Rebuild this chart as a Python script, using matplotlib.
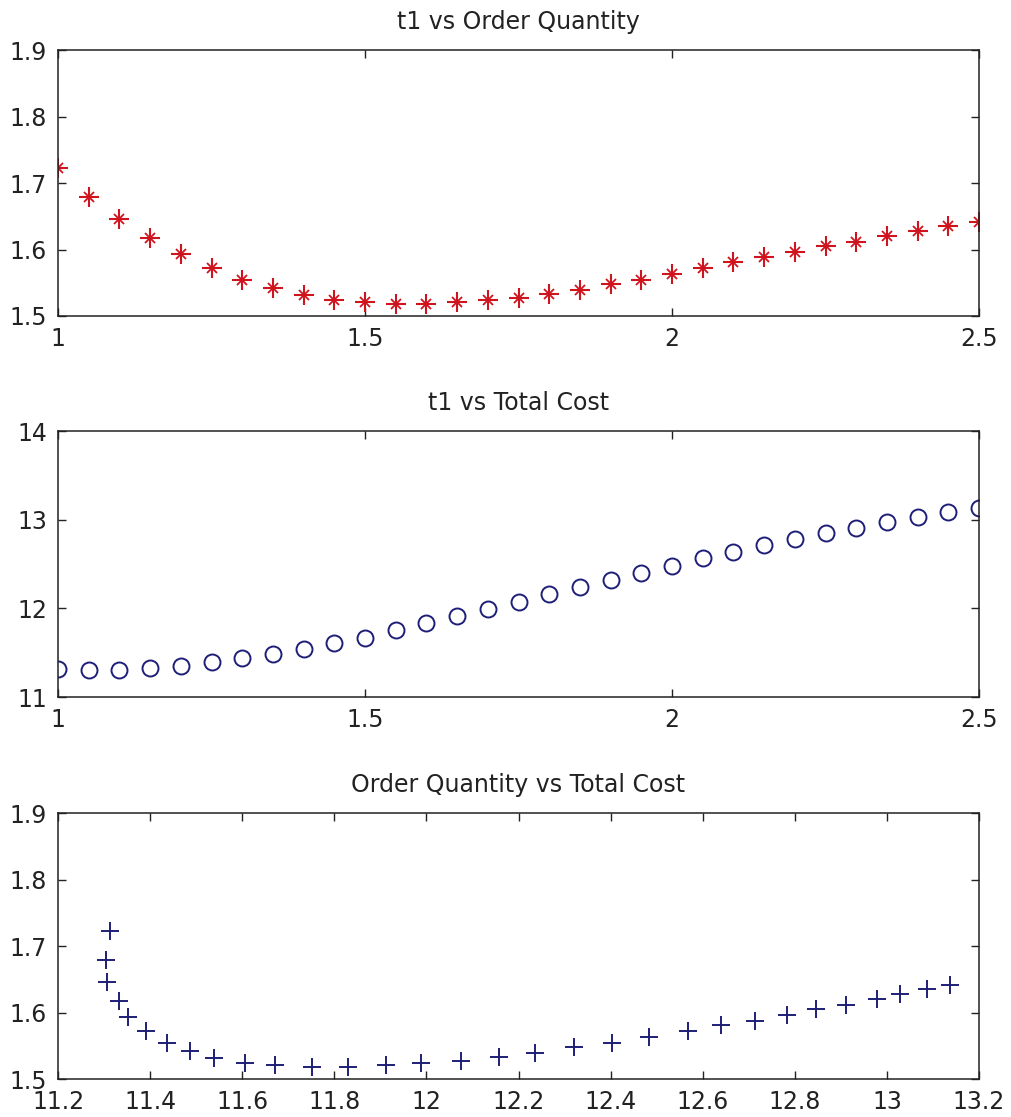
import matplotlib
matplotlib.use("Agg")
import matplotlib.pyplot as plt

plt.rcParams['font.family'] = ['DejaVu Sans']

t1 = [1.00, 1.05, 1.10, 1.15, 1.20, 1.25, 1.30, 1.35, 1.40, 1.45, 1.50,
      1.55, 1.60, 1.65, 1.70, 1.75, 1.80, 1.85, 1.90, 1.95, 2.00,
      2.05, 2.10, 2.15, 2.20, 2.25, 2.30, 2.35, 2.40, 2.45, 2.50]
order_qty = [1.722, 1.679, 1.646, 1.617, 1.593, 1.572, 1.554, 1.542, 1.531, 1.524, 1.521,
             1.518, 1.518, 1.521, 1.524, 1.527, 1.533, 1.539, 1.548, 1.554, 1.563,
             1.572, 1.581, 1.588, 1.597, 1.605, 1.612, 1.621, 1.628, 1.635, 1.641]
total_cost = [11.313, 11.305, 11.306, 11.332, 11.352, 11.392, 11.437, 11.487, 11.538, 11.607, 11.671,
              11.752, 11.830, 11.912, 11.988, 12.074, 12.157, 12.236, 12.320, 12.404, 12.483,
              12.567, 12.640, 12.714, 12.782, 12.846, 12.912, 12.978, 13.029, 13.088, 13.136]

fig = plt.figure(figsize=(10.11, 11.17), dpi=100)
ax1 = fig.add_axes([0.0574, 0.7171, 0.911, 0.2381])
ax2 = fig.add_axes([0.0574, 0.3760, 0.911, 0.2381])
ax3 = fig.add_axes([0.0574, 0.0340, 0.911, 0.2381])

# t1 vs order quantity: red asterisks (plus + cross overlaid)
ax1.plot(t1, order_qty, linestyle='none', marker='+', ms=14, mew=1.5, color='#d0141e')
ax1.plot(t1, order_qty, linestyle='none', marker='x', ms=7.5, mew=1.3, color='#d0141e')
ax1.set_xlim(1, 2.5)
ax1.set_ylim(1.5, 1.9)
ax1.set_xticks([1, 1.5, 2, 2.5])
ax1.set_xticklabels(['1', '1.5', '2', '2.5'])
ax1.set_yticks([1.5, 1.6, 1.7, 1.8, 1.9])
ax1.set_title('t1 vs Order Quantity', fontsize=17, pad=15, color='#222222')

ax2.plot(t1, total_cost, linestyle='none', marker='o', ms=11.5, mew=1.4,
         markerfacecolor='none', color='#1e1e78')
ax2.set_xlim(1, 2.5)
ax2.set_ylim(11, 14)
ax2.set_xticks([1, 1.5, 2, 2.5])
ax2.set_xticklabels(['1', '1.5', '2', '2.5'])
ax2.set_yticks([11, 12, 13, 14])
ax2.set_title('t1 vs Total Cost', fontsize=17, pad=15, color='#222222')

ax3.plot(total_cost, order_qty, linestyle='none', marker='+', ms=13, mew=1.4, color='#1e1e78')
ax3.set_xlim(11.2, 13.2)
ax3.set_ylim(1.5, 1.9)
ax3.set_xticks([11.2, 11.4, 11.6, 11.8, 12, 12.2, 12.4, 12.6, 12.8, 13, 13.2])
ax3.set_xticklabels(['11.2', '11.4', '11.6', '11.8', '12', '12.2', '12.4', '12.6', '12.8', '13', '13.2'])
ax3.set_yticks([1.5, 1.6, 1.7, 1.8, 1.9])
ax3.set_title('Order Quantity vs Total Cost', fontsize=17, pad=15, color='#222222')

for ax in (ax1, ax2, ax3):
    ax.tick_params(direction='in', top=True, right=True, length=6, width=1,
                   labelsize=17, colors='#222222', pad=8)
    for s in ax.spines.values():
        s.set_linewidth(1.1)
        s.set_color('#222222')

fig.savefig('out.png', dpi=100)
